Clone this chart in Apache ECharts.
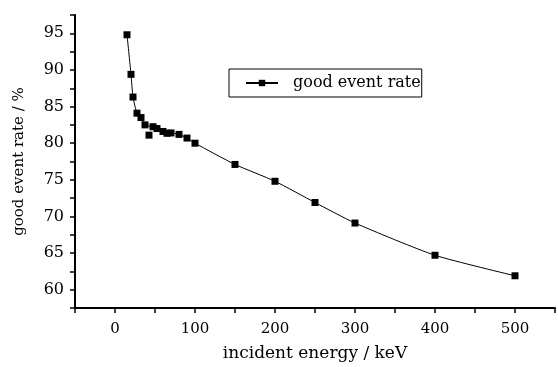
<!DOCTYPE html>
<html>
<head>
<meta charset="utf-8">
<script src="https://cdn.jsdelivr.net/npm/echarts@6/dist/echarts.min.js"></script>
<style>
  html, body { margin: 0; padding: 0; background: #fff; }
  #chart { width: 558px; height: 367px; }
</style>
</head>
<body>
<div id="chart"></div>
<script>
// 数据：入射能量 (keV) 与 good event rate (%)
var energy = [15, 20, 22.5, 27.5, 32.5, 37.5, 47.5, 52.5, 60, 65, 70, 80, 90, 100, 150, 200, 250, 300, 400, 500]
var rate = [94.8, 89.4, 86.3, 84.1, 83.5, 82.5, 82.25, 82.0, 81.6, 81.35, 81.4, 81.2, 80.7, 80.0, 77.1, 74.8, 71.9, 69.1, 64.7, 61.9]
// 偏离曲线的单独点
var outlierEnergy = [42.5]
var outlierRate = [81.1]

var serif = 'DejaVu Serif'

var chart = echarts.init(document.getElementById('chart'))

chart.setOption({
  animation: false,
  backgroundColor: '#fff',
  grid: { left: 75, right: 1, top: 15, bottom: 59 },
  legend: {
    left: 229,
    top: 69,
    orient: 'horizontal',
    borderColor: '#000',
    borderWidth: 1,
    padding: [6, 1, 6, 16],
    itemWidth: 32,
    itemHeight: 8,
    data: ['good event rate'],
    textStyle: { fontFamily: serif, fontSize: 16, color: '#000', padding: [0, 0, 0, 10] }
  },
  xAxis: {
    type: 'value',
    min: -50,
    max: 550,
    interval: 50,
    name: 'incident energy / keV',
    nameLocation: 'middle',
    nameGap: 37,
    nameTextStyle: { fontFamily: serif, fontSize: 17, color: '#000' },
    axisLine: { onZero: false, lineStyle: { color: '#000', width: 2 } },
    axisTick: { length: 5, lineStyle: { color: '#000', width: 1.5 } },
    axisLabel: {
      fontFamily: serif,
      fontSize: 15,
      color: '#000',
      margin: 14,
      formatter: function (v) { return v % 100 === 0 ? String(v) : '' }
    },
    splitLine: { show: false }
  },
  yAxis: {
    type: 'value',
    min: 57.5,
    max: 97.5,
    interval: 2.5,
    name: 'good event rate / %',
    nameLocation: 'middle',
    nameGap: 48,
    nameTextStyle: { fontFamily: serif, fontSize: 15, color: '#000' },
    axisLine: { onZero: false, lineStyle: { color: '#000', width: 2 } },
    axisTick: { length: 5, lineStyle: { color: '#000', width: 1.5 } },
    axisLabel: {
      fontFamily: serif,
      fontSize: 16,
      color: '#000',
      margin: 11,
      formatter: function (v) { return v % 5 === 0 ? String(v) : '' }
    },
    splitLine: { show: false }
  },
  series: [
    {
      name: 'good event rate',
      type: 'line',
      smooth: 0.2,
      symbol: 'rect',
      symbolSize: 7,
      itemStyle: { color: '#000' },
      lineStyle: { color: '#000', width: 1 },
      data: energy.map(function (e, i) { return [e, rate[i]] })
    },
    {
      name: 'outlier',
      type: 'scatter',
      symbol: 'rect',
      symbolSize: 7,
      itemStyle: { color: '#000', opacity: 1 },
      data: outlierEnergy.map(function (e, i) { return [e, outlierRate[i]] })
    }
  ]
})
</script>
</body>
</html>
